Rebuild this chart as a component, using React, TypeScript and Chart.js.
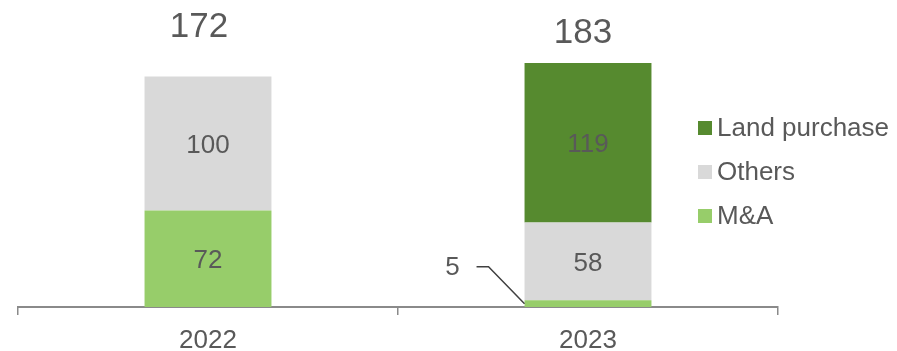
import React, { useEffect, useRef } from 'react';
import { Chart, registerables } from 'chart.js';

Chart.register(...registerables);

const FONT = '"Liberation Sans", Arial, Helvetica, sans-serif';
const TEXT = '#595959';

// ---- data ----
const categories = ['2022', '2023'];
const mnaValues = [72, 5];
const othersValues = [100, 58];
const landPurchaseValues: (number | null)[] = [null, 119];
const totalLabels = [172, 183];
const seriesNames = ['M&A', 'Others', 'Land purchase'];

// ---- style ----
const seriesColors = ['#97cd6a', '#d9d9d9', '#568a2f'];
const totalGap = [49, 30];
const totalDx = [-9, -5];

const labelsPlugin = {
  id: 'customLabels',
  afterDatasetsDraw(chart: any) {
    const ctx = chart.ctx as CanvasRenderingContext2D;
    ctx.save();
    ctx.fillStyle = TEXT;
    ctx.textAlign = 'center';
    ctx.textBaseline = 'middle';
    ctx.font = `26px ${FONT}`;
    chart.data.datasets.forEach((ds: any, di: number) => {
      const meta = chart.getDatasetMeta(di);
      meta.data.forEach((el: any, i: number) => {
        const v = ds.data[i];
        if (v == null) return;
        const { x, y, base, width } = el.getProps(['x', 'y', 'base', 'width'], true);
        const h = base - y;
        if (h > 30) {
          ctx.fillText(String(v), x, (y + base) / 2 + 2);
        } else {
          const left = x - width / 2;
          const my = (y + base) / 2;
          ctx.strokeStyle = '#404040';
          ctx.lineWidth = 1.5;
          ctx.beginPath();
          ctx.moveTo(left, my);
          ctx.lineTo(left - 36, my - 37);
          ctx.lineTo(left - 48, my - 37);
          ctx.stroke();
          ctx.fillText(String(v), left - 72, my - 36);
        }
      });
    });

    // totals
    ctx.font = `35px ${FONT}`;
    categories.forEach((_c, i) => {
      let top = Infinity;
      let x = 0;
      chart.data.datasets.forEach((ds: any, di: number) => {
        if (ds.data[i] == null) return;
        const el = chart.getDatasetMeta(di).data[i];
        top = Math.min(top, el.y);
        x = el.x;
      });
      ctx.fillText(String(totalLabels[i]), x + totalDx[i], top - totalGap[i]);
    });

    // legend (reverse order)
    ctx.font = `26px ${FONT}`;
    ctx.textAlign = 'left';
    const lx = 698;
    const ly = 128;
    const step = 44;
    const order = [2, 1, 0];
    order.forEach((di, k) => {
      const cy = ly + k * step;
      ctx.fillStyle = seriesColors[di];
      ctx.fillRect(lx, cy - 7, 14, 14);
      ctx.fillStyle = TEXT;
      ctx.fillText(seriesNames[di], lx + 19, cy + 1);
    });
    ctx.restore();
  },
};

export default function App() {
  const ref = useRef<HTMLCanvasElement>(null);
  useEffect(() => {
    if (!ref.current) return;
    const chart = new Chart(ref.current, {
      type: 'bar',
      data: {
        labels: categories,
        datasets: [
          { label: seriesNames[0], data: mnaValues, backgroundColor: seriesColors[0] },
          { label: seriesNames[1], data: othersValues, backgroundColor: seriesColors[1] },
          { label: seriesNames[2], data: landPurchaseValues, backgroundColor: seriesColors[2] },
        ],
      },
      options: {
        animation: false,
        responsive: false,
        devicePixelRatio: 1,
        layout: { padding: { left: 18, right: 119, top: 0, bottom: 0 } },
        datasets: { bar: { barPercentage: 0.334, categoryPercentage: 1 } },
        plugins: { legend: { display: false }, tooltip: { enabled: false } },
        scales: {
          x: {
            stacked: true,
            grid: {
              display: true,
              drawOnChartArea: false,
              drawTicks: true,
              tickLength: 8,
              offset: true,
              color: '#8a8a8a',
              lineWidth: 1.5,
            },
            border: { display: true, color: '#8a8a8a', width: 2 },
            ticks: { color: TEXT, font: { family: FONT, size: 26 }, padding: 10 },
            afterFit: (s: any) => {
              s.height = 44;
            },
          },
          y: { stacked: true, display: false, min: 0, max: 229 },
        },
      },
      plugins: [labelsPlugin],
    } as any);
    return () => chart.destroy();
  }, []);
  return (
    <div style={{ position: 'fixed', left: 0, top: 0, width: 897, height: 351, background: '#fff' }}>
      <canvas ref={ref} width={897} height={351} />
    </div>
  );
}
